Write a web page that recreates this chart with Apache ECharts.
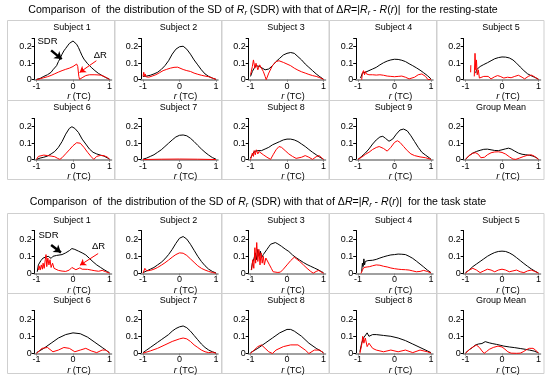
<!DOCTYPE html>
<html><head><meta charset="utf-8">
<script src="https://cdn.jsdelivr.net/npm/echarts@6/dist/echarts.min.js"></script>
<style>html,body{margin:0;padding:0;background:#fff}#c{width:550px;height:380px}</style>
</head><body><div id="c"></div>
<script>
// ---------- DATA (r, value) ----------
const xTicks = [-1, 0, 1];
const yTicks = [0, 0.1, 0.2];
const restTitles = ['Subject 1','Subject 2','Subject 3','Subject 4','Subject 5','Subject 6','Subject 7','Subject 8','Subject 9','Group Mean'];
const taskTitles = ['Subject 1','Subject 2','Subject 3','Subject 4','Subject 5','Subject 6','Subject 7','Subject 8','Subject 8','Group Mean'];

const rest1_sdr = [[-1,0.002],[-0.9,0.008],[-0.8,0.02],[-0.7,0.03],[-0.6,0.045],[-0.55,0.06],[-0.5,0.07],[-0.45,0.085],[-0.4,0.11],[-0.35,0.13],[-0.3,0.155],[-0.25,0.175],[-0.2,0.19],[-0.15,0.205],[-0.1,0.22],[-0.05,0.23],[0,0.235],[0.05,0.23],[0.1,0.215],[0.15,0.195],[0.2,0.17],[0.25,0.145],[0.3,0.125],[0.4,0.097],[0.5,0.075],[0.6,0.055],[0.7,0.038],[0.8,0.025],[0.9,0.013],[1,0.003]];
const rest1_dr = [[-1,0.0],[-0.9,0.006],[-0.8,0.012],[-0.7,0.018],[-0.6,0.026],[-0.5,0.036],[-0.4,0.046],[-0.3,0.055],[-0.2,0.063],[-0.1,0.07],[0,0.08],[0.05,0.088],[0.1,0.095],[0.13,0.08],[0.16,0.02],[0.18,0.002],[0.25,0.012],[0.35,0.025],[0.45,0.03],[0.6,0.03],[0.75,0.028],[0.85,0.02],[0.95,0.008],[1,0.002]];
const rest2_sdr = [[-1,0.02],[-0.9,0.022],[-0.8,0.027],[-0.7,0.035],[-0.6,0.045],[-0.5,0.062],[-0.4,0.085],[-0.3,0.115],[-0.2,0.155],[-0.1,0.185],[0,0.2],[0.05,0.205],[0.1,0.203],[0.2,0.185],[0.3,0.155],[0.4,0.12],[0.5,0.09],[0.6,0.06],[0.7,0.035],[0.8,0.02],[0.9,0.01],[1,0.002]];
const rest2_dr = [[-1,0.02],[-0.98,0.045],[-0.96,0.02],[-0.94,0.035],[-0.92,0.018],[-0.85,0.015],[-0.75,0.022],[-0.65,0.03],[-0.55,0.042],[-0.45,0.055],[-0.35,0.063],[-0.25,0.07],[-0.15,0.075],[-0.1,0.072],[-0.05,0.076],[0,0.066],[0.1,0.062],[0.2,0.055],[0.3,0.05],[0.4,0.04],[0.5,0.033],[0.6,0.027],[0.7,0.022],[0.8,0.018],[0.9,0.01],[1,0.002]];
const rest3_sdr = [[-1,0.02],[-0.95,0.05],[-0.9,0.07],[-0.85,0.085],[-0.8,0.09],[-0.75,0.08],[-0.7,0.075],[-0.6,0.06],[-0.5,0.065],[-0.4,0.085],[-0.3,0.11],[-0.2,0.13],[-0.1,0.15],[0,0.16],[0.1,0.165],[0.2,0.16],[0.3,0.14],[0.4,0.12],[0.5,0.095],[0.6,0.075],[0.7,0.055],[0.8,0.035],[0.9,0.018],[1,0.003]];
const rest3_dr = [[-1,0.03],[-0.95,0.08],[-0.92,0.12],[-0.88,0.07],[-0.85,0.1],[-0.8,0.06],[-0.75,0.09],[-0.7,0.08],[-0.65,0.05],[-0.6,0.02],[-0.57,0.0],[-0.5,0.04],[-0.4,0.085],[-0.3,0.11],[-0.22,0.115],[-0.1,0.105],[0,0.095],[0.1,0.085],[0.2,0.07],[0.3,0.058],[0.4,0.048],[0.5,0.04],[0.6,0.032],[0.7,0.025],[0.8,0.02],[0.9,0.012],[1,0.002]];
const rest4_sdr = [[-0.93,0.01],[-0.88,0.04],[-0.85,0.035],[-0.8,0.045],[-0.75,0.05],[-0.7,0.055],[-0.6,0.065],[-0.5,0.075],[-0.4,0.09],[-0.3,0.103],[-0.2,0.113],[-0.1,0.12],[0,0.124],[0.1,0.123],[0.2,0.118],[0.3,0.11],[0.4,0.097],[0.5,0.085],[0.6,0.072],[0.7,0.058],[0.8,0.042],[0.9,0.025],[1,0.005]];
const rest4_dr = [[-0.9,0.0],[-0.88,0.04],[-0.85,0.055],[-0.82,0.03],[-0.8,0.05],[-0.77,0.035],[-0.74,0.045],[-0.7,0.03],[-0.6,0.03],[-0.5,0.028],[-0.4,0.03],[-0.3,0.027],[-0.2,0.022],[-0.1,0.02],[0,0.018],[0.1,0.02],[0.2,0.022],[0.3,0.015],[0.4,0.005],[0.45,0.0],[0.55,0.015],[0.65,0.03],[0.75,0.035],[0.85,0.02],[0.92,0.0],[1,0.003]];
const rest5_sdr = [[-0.72,0.04],[-0.7,0.06],[-0.68,0.055],[-0.65,0.07],[-0.6,0.08],[-0.55,0.085],[-0.5,0.092],[-0.4,0.103],[-0.3,0.115],[-0.2,0.127],[-0.1,0.134],[0,0.138],[0.1,0.137],[0.2,0.132],[0.3,0.12],[0.4,0.1],[0.5,0.077],[0.6,0.055],[0.7,0.036],[0.8,0.024],[0.9,0.014],[1,0.003]];
const rest5_dr = [[-0.86,0.045],[-0.855,0.088],[-0.85,'-'],[-0.76,0.02],[-0.74,0.16],[-0.72,0.06],[-0.7,0.12],[-0.68,0.03],[-0.65,0.06],[-0.62,0.01],[-0.58,0.005],[-0.5,0.02],[-0.45,0.028],[-0.38,0.02],[-0.3,0.005],[-0.2,0.018],[-0.12,0.025],[-0.05,0.02],[0.05,0.01],[0.15,0.015],[0.25,0.012],[0.35,0.02],[0.45,0.027],[0.55,0.015],[0.62,0.005],[0.72,0.02],[0.8,0.028],[0.87,0.02],[0.94,0.01],[1,0.002]];
const rest6_sdr = [[-1,0.002],[-0.9,0.01],[-0.8,0.015],[-0.7,0.022],[-0.6,0.035],[-0.5,0.05],[-0.4,0.075],[-0.3,0.11],[-0.2,0.155],[-0.1,0.19],[-0.03,0.2],[0.05,0.19],[0.15,0.165],[0.25,0.125],[0.35,0.095],[0.45,0.065],[0.55,0.045],[0.65,0.035],[0.75,0.028],[0.85,0.022],[0.95,0.01],[1,0.003]];
const rest6_dr = [[-1,0.002],[-0.95,0.02],[-0.9,0.026],[-0.8,0.028],[-0.7,0.025],[-0.6,0.022],[-0.5,0.018],[-0.42,0.008],[-0.36,0.002],[-0.3,0.012],[-0.2,0.036],[-0.1,0.06],[0,0.085],[0.1,0.103],[0.15,0.107],[0.2,0.1],[0.3,0.075],[0.4,0.045],[0.5,0.018],[0.57,0.002],[0.65,0.02],[0.75,0.026],[0.85,0.024],[0.95,0.015],[1,0.003]];
const rest7_sdr = [[-1,0.003],[-0.9,0.01],[-0.8,0.02],[-0.7,0.03],[-0.6,0.045],[-0.5,0.06],[-0.4,0.08],[-0.3,0.1],[-0.2,0.12],[-0.1,0.138],[0,0.148],[0.1,0.15],[0.2,0.145],[0.3,0.13],[0.4,0.11],[0.5,0.087],[0.6,0.065],[0.7,0.045],[0.8,0.028],[0.9,0.013],[1,0.003]];
const rest7_dr = [[-1,0.001],[-0.5,0.003],[0,0.004],[0.5,0.003],[1,0.001]];
const rest8_sdr = [[-1,0.01],[-0.95,0.03],[-0.9,0.05],[-0.85,0.04],[-0.8,0.055],[-0.75,0.05],[-0.7,0.055],[-0.6,0.065],[-0.5,0.075],[-0.4,0.09],[-0.3,0.1],[-0.2,0.11],[-0.1,0.12],[0,0.125],[0.1,0.125],[0.2,0.12],[0.3,0.11],[0.4,0.095],[0.5,0.08],[0.6,0.062],[0.7,0.045],[0.8,0.03],[0.9,0.015],[1,0.003]];
const rest8_dr = [[-1,0.0],[-0.95,0.04],[-0.92,0.02],[-0.9,0.055],[-0.87,0.03],[-0.84,0.06],[-0.8,0.035],[-0.77,0.05],[-0.72,0.04],[-0.65,0.03],[-0.55,0.015],[-0.45,0.002],[-0.38,0.03],[-0.3,0.06],[-0.22,0.08],[-0.15,0.075],[-0.05,0.055],[0.05,0.035],[0.15,0.02],[0.25,0.008],[0.3,0.002],[0.4,0.015],[0.5,0.025],[0.6,0.015],[0.7,0.002],[0.8,0.018],[0.88,0.025],[0.95,0.012],[1,0.002]];
const rest9_sdr = [[-1,0.002],[-0.9,0.02],[-0.8,0.04],[-0.7,0.065],[-0.6,0.095],[-0.5,0.12],[-0.4,0.138],[-0.32,0.142],[-0.25,0.13],[-0.15,0.112],[-0.05,0.125],[0.05,0.155],[0.15,0.18],[0.25,0.186],[0.35,0.175],[0.45,0.145],[0.55,0.11],[0.65,0.075],[0.75,0.045],[0.85,0.028],[0.95,0.012],[1,0.003]];
const rest9_dr = [[-1,0.002],[-0.9,0.015],[-0.8,0.032],[-0.7,0.045],[-0.6,0.062],[-0.5,0.074],[-0.42,0.08],[-0.3,0.068],[-0.2,0.052],[-0.1,0.075],[0,0.105],[0.08,0.115],[0.15,0.105],[0.25,0.08],[0.35,0.055],[0.45,0.035],[0.55,0.025],[0.7,0.017],[0.85,0.012],[1,0.002]];
const restGM_sdr = [[-1,0.002],[-0.9,0.025],[-0.8,0.04],[-0.7,0.05],[-0.6,0.057],[-0.5,0.063],[-0.4,0.064],[-0.3,0.06],[-0.2,0.056],[-0.1,0.055],[0,0.06],[0.1,0.066],[0.18,0.07],[0.25,0.065],[0.35,0.052],[0.45,0.04],[0.55,0.033],[0.65,0.03],[0.75,0.027],[0.85,0.022],[0.95,0.012],[1,0.003]];
const restGM_dr = [[-1,0.003],[-0.9,0.025],[-0.8,0.04],[-0.72,0.042],[-0.65,0.033],[-0.58,0.012],[-0.54,0.002],[-0.48,0.015],[-0.4,0.03],[-0.3,0.042],[-0.2,0.047],[-0.1,0.048],[0,0.044],[0.1,0.034],[0.2,0.018],[0.3,0.004],[0.38,0.002],[0.48,0.01],[0.6,0.02],[0.7,0.027],[0.8,0.03],[0.88,0.022],[0.95,0.01],[1,0.002]];

const task1_sdr = [[-0.98,0.01],[-0.95,0.05],[-0.92,0.04],[-0.88,0.075],[-0.85,0.065],[-0.82,0.09],[-0.78,0.08],[-0.75,0.095],[-0.72,0.085],[-0.68,0.1],[-0.64,0.09],[-0.6,0.088],[-0.55,0.1],[-0.5,0.1],[-0.45,0.105],[-0.4,0.107],[-0.3,0.11],[-0.2,0.12],[-0.1,0.133],[-0.03,0.145],[0.05,0.14],[0.15,0.13],[0.25,0.12],[0.35,0.108],[0.45,0.088],[0.55,0.068],[0.65,0.05],[0.75,0.036],[0.85,0.022],[0.95,0.01],[1,0.005]];
const task1_dr = [[-0.95,0.02],[-0.93,0.045],[-0.9,0.02],[-0.87,0.05],[-0.84,0.025],[-0.82,0.06],[-0.79,0.03],[-0.76,0.08],[-0.74,0.11],[-0.72,0.04],[-0.69,0.09],[-0.66,0.05],[-0.63,0.08],[-0.6,0.035],[-0.56,0.06],[-0.52,0.03],[-0.47,0.025],[-0.4,0.018],[-0.3,0.014],[-0.2,0.012],[-0.1,0.02],[-0.03,0.035],[0.02,0.038],[0.08,0.022],[0.13,0.02],[0.19,0.033],[0.25,0.025],[0.3,0.018],[0.4,0.024],[0.5,0.02],[0.6,0.016],[0.7,0.013],[0.8,0.018],[0.9,0.01],[1,0.002]];
const task2_sdr = [[-1,0.005],[-0.9,0.015],[-0.8,0.025],[-0.7,0.035],[-0.6,0.05],[-0.5,0.065],[-0.4,0.085],[-0.3,0.11],[-0.2,0.14],[-0.1,0.175],[0,0.205],[0.05,0.215],[0.1,0.215],[0.2,0.2],[0.3,0.17],[0.4,0.135],[0.5,0.1],[0.6,0.07],[0.7,0.045],[0.8,0.025],[0.9,0.012],[1,0.003]];
const task2_dr = [[-1,0.002],[-0.95,0.03],[-0.9,0.015],[-0.8,0.018],[-0.7,0.025],[-0.6,0.035],[-0.5,0.048],[-0.4,0.062],[-0.3,0.078],[-0.2,0.095],[-0.1,0.11],[0,0.12],[0.1,0.118],[0.2,0.105],[0.3,0.085],[0.4,0.065],[0.5,0.045],[0.6,0.03],[0.7,0.02],[0.8,0.012],[0.9,0.006],[1,0.002]];
const task3_sdr = [[-0.98,0.02],[-0.95,0.06],[-0.9,0.09],[-0.87,0.12],[-0.84,0.08],[-0.8,0.14],[-0.77,0.1],[-0.73,0.13],[-0.7,0.09],[-0.65,0.11],[-0.6,0.12],[-0.55,0.14],[-0.5,0.155],[-0.45,0.17],[-0.4,0.18],[-0.32,0.18],[-0.25,0.172],[-0.15,0.158],[-0.05,0.142],[0.05,0.128],[0.15,0.108],[0.25,0.092],[0.35,0.078],[0.45,0.064],[0.55,0.052],[0.65,0.042],[0.75,0.032],[0.85,0.022],[0.95,0.01],[1,0.005]];
const task3_dr = [[-0.97,0.02],[-0.94,0.08],[-0.91,0.03],[-0.88,0.15],[-0.86,0.06],[-0.83,0.18],[-0.8,0.07],[-0.77,0.14],[-0.74,0.05],[-0.71,0.12],[-0.68,0.06],[-0.65,0.1],[-0.62,0.05],[-0.58,0.09],[-0.53,0.085],[-0.48,0.05],[-0.43,0.03],[-0.38,0.01],[-0.33,0.004],[-0.25,0.006],[-0.18,0.008],[-0.1,0.025],[0,0.05],[0.1,0.075],[0.2,0.095],[0.25,0.09],[0.35,0.07],[0.45,0.05],[0.55,0.03],[0.65,0.012],[0.72,0.002],[0.8,0.012],[0.87,0.018],[0.94,0.008],[1,0.002]];
const task4_sdr = [[-0.9,0.01],[-0.88,0.06],[-0.86,0.04],[-0.84,0.085],[-0.82,0.05],[-0.8,0.07],[-0.77,0.06],[-0.73,0.075],[-0.68,0.068],[-0.6,0.077],[-0.5,0.082],[-0.4,0.09],[-0.3,0.097],[-0.2,0.103],[-0.1,0.108],[0,0.11],[0.1,0.113],[0.2,0.112],[0.3,0.11],[0.4,0.1],[0.5,0.088],[0.6,0.072],[0.7,0.055],[0.8,0.038],[0.9,0.02],[1,0.005]];
const task4_dr = [[-0.92,0.0],[-0.88,0.02],[-0.84,0.035],[-0.8,0.03],[-0.75,0.038],[-0.68,0.04],[-0.6,0.045],[-0.5,0.05],[-0.4,0.048],[-0.3,0.042],[-0.2,0.038],[-0.1,0.032],[0,0.028],[0.1,0.025],[0.2,0.023],[0.3,0.022],[0.4,0.02],[0.5,0.015],[0.6,0.01],[0.7,0.012],[0.8,0.018],[0.9,0.012],[1,0.003]];
const task5_sdr = [[-1,0.005],[-0.9,0.02],[-0.8,0.04],[-0.7,0.055],[-0.6,0.07],[-0.5,0.085],[-0.4,0.1],[-0.3,0.112],[-0.2,0.122],[-0.1,0.128],[0,0.13],[0.1,0.128],[0.2,0.12],[0.3,0.108],[0.4,0.092],[0.5,0.075],[0.6,0.058],[0.7,0.042],[0.8,0.027],[0.9,0.014],[1,0.003]];
const task5_dr = [[-1,0.002],[-0.9,0.02],[-0.8,0.03],[-0.7,0.02],[-0.6,0.005],[-0.5,0.015],[-0.4,0.025],[-0.3,0.02],[-0.2,0.01],[-0.1,0.02],[0,0.025],[0.1,0.02],[0.2,0.01],[0.3,0.015],[0.4,0.02],[0.5,0.01],[0.6,0.005],[0.7,0.015],[0.8,0.02],[0.9,0.012],[1,0.002]];
const task6_sdr = [[-1,0.005],[-0.8,0.03],[-0.6,0.06],[-0.4,0.09],[-0.2,0.11],[0,0.12],[0.2,0.115],[0.4,0.095],[0.6,0.065],[0.8,0.035],[1,0.005]];
const task6_dr = [[-1,0.0],[-0.85,0.03],[-0.7,0.035],[-0.55,0.01],[-0.4,0.02],[-0.25,0.035],[-0.1,0.03],[0.05,0.01],[0.2,0.02],[0.35,0.03],[0.5,0.015],[0.65,0.005],[0.8,0.02],[0.9,0.02],[1,0.002]];
const task7_sdr = [[-1,0.005],[-0.9,0.02],[-0.8,0.035],[-0.7,0.05],[-0.6,0.065],[-0.5,0.08],[-0.4,0.095],[-0.3,0.11],[-0.2,0.13],[-0.1,0.145],[0,0.155],[0.1,0.16],[0.2,0.15],[0.3,0.13],[0.4,0.105],[0.5,0.08],[0.6,0.055],[0.7,0.035],[0.8,0.02],[0.9,0.01],[1,0.003]];
const task7_dr = [[-1,0.002],[-0.8,0.015],[-0.6,0.03],[-0.4,0.05],[-0.2,0.07],[0,0.085],[0.1,0.09],[0.2,0.085],[0.3,0.07],[0.4,0.05],[0.5,0.035],[0.6,0.02],[0.7,0.01],[0.8,0.005],[0.9,0.008],[1,0.002]];
const task8a_sdr = [[-1,0.005],[-0.8,0.03],[-0.6,0.06],[-0.4,0.09],[-0.2,0.12],[0,0.14],[0.1,0.14],[0.2,0.13],[0.4,0.1],[0.6,0.06],[0.8,0.03],[1,0.005]];
const task8a_dr = [[-1,0.0],[-0.9,0.02],[-0.8,0.04],[-0.7,0.05],[-0.6,0.03],[-0.5,0.01],[-0.4,0.0],[-0.3,0.02],[-0.1,0.04],[0.1,0.05],[0.3,0.05],[0.5,0.02],[0.6,0.0],[0.75,0.02],[0.9,0.02],[1,0.002]];
const task8b_sdr = [[-0.95,0.01],[-0.9,0.06],[-0.85,0.09],[-0.8,0.1],[-0.75,0.12],[-0.7,0.1],[-0.6,0.11],[-0.5,0.11],[-0.3,0.105],[-0.1,0.1],[0.1,0.09],[0.3,0.075],[0.5,0.055],[0.7,0.035],[0.9,0.015],[1,0.005]];
const task8b_dr = [[-0.95,0.0],[-0.9,0.05],[-0.87,0.1],[-0.84,0.06],[-0.8,0.09],[-0.75,0.04],[-0.7,0.06],[-0.6,0.03],[-0.5,0.02],[-0.3,0.01],[-0.1,0.02],[0.1,0.01],[0.3,0.02],[0.5,0.005],[0.7,0.02],[0.9,0.01],[1,0.002]];
const taskGM_sdr = [[-1,0.003],[-0.96,0.01],[-0.9,0.022],[-0.82,0.033],[-0.73,0.049],[-0.65,0.055],[-0.6,0.06],[-0.55,0.058],[-0.5,0.066],[-0.46,0.069],[-0.42,0.063],[-0.35,0.062],[-0.25,0.057],[-0.15,0.053],[-0.05,0.048],[0.05,0.043],[0.2,0.038],[0.35,0.034],[0.5,0.029],[0.65,0.024],[0.75,0.02],[0.88,0.014],[1,0.004]];
const taskGM_dr = [[-1,0.002],[-0.93,0.015],[-0.87,0.027],[-0.78,0.04],[-0.7,0.049],[-0.62,0.035],[-0.55,0.015],[-0.49,0.001],[-0.42,0.012],[-0.35,0.024],[-0.24,0.035],[-0.11,0.043],[0,0.038],[0.08,0.025],[0.16,0.01],[0.25,0.002],[0.4,0.001],[0.5,0.002],[0.58,0.01],[0.67,0.022],[0.75,0.03],[0.85,0.03],[0.92,0.02],[1,0.002]];

const restSDR = [rest1_sdr,rest2_sdr,rest3_sdr,rest4_sdr,rest5_sdr,rest6_sdr,rest7_sdr,rest8_sdr,rest9_sdr,restGM_sdr];
const restDR  = [rest1_dr,rest2_dr,rest3_dr,rest4_dr,rest5_dr,rest6_dr,rest7_dr,rest8_dr,rest9_dr,restGM_dr];
const taskSDR = [task1_sdr,task2_sdr,task3_sdr,task4_sdr,task5_sdr,task6_sdr,task7_sdr,task8a_sdr,task8b_sdr,taskGM_sdr];
const taskDR  = [task1_dr,task2_dr,task3_dr,task4_dr,task5_dr,task6_dr,task7_dr,task8a_dr,task8b_dr,taskGM_dr];

// annotation anchors (data coords) for Subject 1 panels
const restNotes = {sdrText:[-0.7,0.232], sdrArrow:[[-0.6,0.178],[-0.31,0.125]], drText:[0.75,0.15], drArrow:[[0.64,0.115],[0.18,0.044]]};
const taskNotes = {sdrText:[-0.67,0.222], sdrArrow:[[-0.6,0.165],[-0.33,0.122]], drText:[0.7,0.155], drArrow:[[0.69,0.116],[0.19,0.048]]};

// ---------- LAYOUT ----------
const FONT = '"Liberation Sans", Arial, sans-serif';
const colX = [7, 113.5, 221, 328.5, 436];
const PW = 107.5;
const sections = [
  {titleY: 10, titleX: 263, rows: [20, 100], rowH: [80, 79], gTop: 18.5, gH: 41.2,
   titles: restTitles, sdr: restSDR, dr: restDR, notes: restNotes, state: 'resting-state'},
  {titleY: 202, titleX: 258, rows: [213, 293], rowH: [80, 80], gTop: 17.5, gH: 43,
   titles: taskTitles, sdr: taskSDR, dr: taskDR, notes: taskNotes, state: 'task state'}
];

const grid = [], xAxis = [], yAxis = [], series = [], graphic = [];
let gi = 0;
sections.forEach((sec, si) => {
  graphic.push({type:'text', x: sec.titleX, y: sec.titleY,
    style: {text: '{n|Comparison  of  the distribution of the SD of }{i|R}{s|r}{n| (SDR) with that of Δ}{i|R}{n|=|}{i|R}{s|r}{n| - }{i|R}{n|(}{i|r}{n|)|  for the ' + sec.state + '}',
      align:'center', verticalAlign:'middle', fill:'#000',
      rich: {n:{fontSize:10.6, fontFamily:FONT, lineHeight:14, verticalAlign:'middle'},
             i:{fontSize:10.6, fontFamily:FONT, fontStyle:'italic', lineHeight:14, verticalAlign:'middle'},
             s:{fontSize:7.5, fontFamily:FONT, fontStyle:'italic', lineHeight:14, verticalAlign:'bottom'}}}});
  for (let k = 0; k < 10; k++) {
    const row = Math.floor(k / 5), col = k % 5;
    const top = sec.rows[row];
    graphic.push({type:'rect', shape:{x: Math.round(colX[col]) + 0.5, y: top + 0.5, width: PW, height: sec.rowH[row]},
      style:{fill:'none', stroke:'#cfcfcf', lineWidth:1}, z: 0});
    graphic.push({type:'text', x: colX[col] + 65, y: top + 8,
      style:{text: sec.titles[k], align:'center', verticalAlign:'middle', fontSize: 9, fontFamily: FONT, fill:'#000'}});
    grid.push({left: colX[col] + 27.7, top: top + sec.gTop, width: 76.6, height: sec.gH});
    xAxis.push({gridIndex: gi, type:'value', min:-1.05, max:1.05,
      axisLine:{onZero:false, lineStyle:{color:'#a0a0a0', width:2}},
      axisTick:{customValues: xTicks, length:2, lineStyle:{color:'#808080'}},
      axisLabel:{customValues: xTicks, margin:2, fontSize:9, fontFamily:FONT, color:'#000'},
      splitLine:{show:false},
      name:'{i|r} (TC)', nameLocation:'middle', nameGap: 12,
      nameTextStyle:{fontSize:9, fontFamily:FONT, color:'#000', padding:[0,0,0,12], rich:{i:{fontStyle:'italic', fontSize:9.5, fontFamily:FONT}}}});
    yAxis.push({gridIndex: gi, type:'value', min:0, max:0.25, interval:0.1,
      axisLine:{show:true, onZero:false, lineStyle:{color:'#000', width:1}},
      axisTick:{show:true, customValues:[0,0.1,0.2,0.25], length:3, lineStyle:{color:'#000'}},
      axisLabel:{customValues: yTicks, margin:3, fontSize:9, fontFamily:FONT, color:'#000'},
      splitLine:{show:false}});
    const sdrS = {type:'line', xAxisIndex: gi, yAxisIndex: gi, data: sec.sdr[k], showSymbol:false,
      lineStyle:{color:'#000', width:1}, itemStyle:{color:'#000'}, z: 3, animation:false, silent:true};
    const drS = {type:'line', xAxisIndex: gi, yAxisIndex: gi, data: sec.dr[k], showSymbol:false,
      lineStyle:{color:'#ff0000', width:1}, itemStyle:{color:'#ff0000'}, z: 4, animation:false, silent:true};
    if (k === 0) {
      const n = sec.notes;
      sdrS.markLine = {silent:true, symbol:['none','arrow'], symbolSize:[7,7], animation:false,
        label:{show:false}, lineStyle:{color:'#000', width:2.5, type:'solid'},
        data:[[{coord:n.sdrArrow[0]},{coord:n.sdrArrow[1]}]]};
      sdrS.markPoint = {silent:true, animation:false, symbol:'circle', symbolSize:1, itemStyle:{color:'rgba(0,0,0,0)'},
        label:{show:true, position:'inside', color:'#000', fontSize:9.5, fontFamily:FONT},
        data:[{coord:n.sdrText, value:'SDR', label:{formatter:'SDR'}}]};
      drS.markLine = {silent:true, symbol:['none','arrow'], symbolSize:[6,6], animation:false,
        label:{show:false}, lineStyle:{color:'#ff0000', width:1, type:'solid'},
        data:[[{coord:n.drArrow[0]},{coord:n.drArrow[1]}]]};
      drS.markPoint = {silent:true, animation:false, symbol:'circle', symbolSize:1, itemStyle:{color:'rgba(0,0,0,0)'},
        label:{show:true, position:'inside', color:'#000', fontSize:9.5, fontFamily:FONT},
        data:[{coord:n.drText, value:'ΔR', label:{formatter:'ΔR'}}]};
    }
    series.push(sdrS, drS);
    gi++;
  }
});

const chart = echarts.init(document.getElementById('c'), null, {renderer:'canvas'});
chart.setOption({animation:false, backgroundColor:'#fff', grid, xAxis, yAxis, series, graphic});
</script></body></html>
